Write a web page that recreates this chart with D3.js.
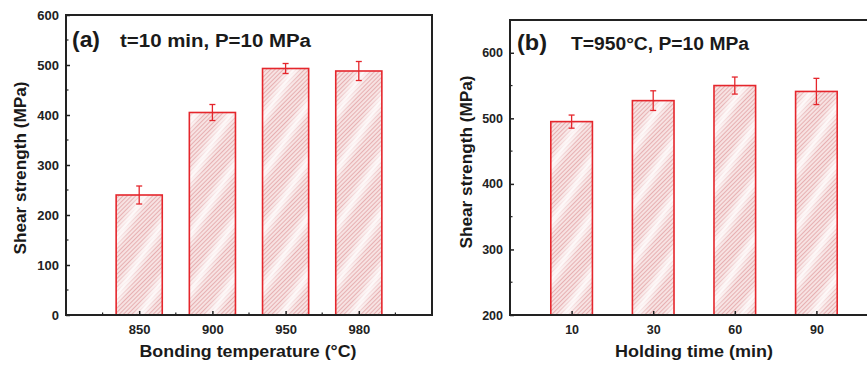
<!DOCTYPE html>
<html>
<head>
<meta charset="utf-8">
<script src="https://cdn.jsdelivr.net/npm/d3@7"></script>
<style>
  body { margin: 0; background: #fff; }
  svg { display: block; font-family: "Liberation Sans", Arial, sans-serif; }
  .tick text { font-weight: bold; fill: #222; }
</style>
</head>
<body>
<svg width="867" height="367"></svg>
<script>
// panel (a): shear strength vs bonding temperature
var tempLabels = ["850", "900", "950", "980"],
    tempStrength = [240, 405, 493, 488],
    tempErr = [18, 16, 10, 19];

// panel (b): shear strength vs holding time
var timeLabels = ["10", "30", "60", "90"],
    timeStrength = [495, 527, 550, 541],
    timeErr = [10, 15, 13, 20];

var red = "#e5262c";

var svg = d3.select("svg");

var defs = svg.append("defs");
// fine red hatch
var pat = defs.append("pattern")
    .attr("id", "hatch")
    .attr("patternUnits", "userSpaceOnUse")
    .attr("width", 3)
    .attr("height", 3)
    .attr("patternTransform", "rotate(45)");
pat.append("rect").attr("width", 3).attr("height", 3).attr("fill", "#f7e2e2");
pat.append("line")
    .attr("x1", 0).attr("y1", 0).attr("x2", 0).attr("y2", 3)
    .attr("stroke", "#d77f82")
    .attr("stroke-width", 1);

// broad light bands (moire of the original hatch)
var grad = defs.append("linearGradient").attr("id", "bandGrad");
grad.append("stop").attr("offset", "0%").attr("stop-color", "#fff").attr("stop-opacity", 0);
grad.append("stop").attr("offset", "50%").attr("stop-color", "#fff").attr("stop-opacity", 0.85);
grad.append("stop").attr("offset", "100%").attr("stop-color", "#fff").attr("stop-opacity", 0);
var bands = defs.append("pattern")
    .attr("id", "bands")
    .attr("patternUnits", "userSpaceOnUse")
    .attr("width", 30)
    .attr("height", 40)
    .attr("patternTransform", "rotate(32)");
bands.append("rect").attr("x", 8).attr("width", 16).attr("height", 40).attr("fill", "url(#bandGrad)");

function label(g, o) {
  var t = g.append("text")
    .style("font-size", o.size + "px").style("font-weight", "bold").attr("fill", "#1a1a1a")
    .attr("textLength", o.len).attr("lengthAdjust", "spacingAndGlyphs")
    .text(o.text);
  if (o.rotate) {
    t.attr("transform", "translate(" + o.x + "," + o.y + ")rotate(-90)").attr("text-anchor", "middle");
  } else {
    t.attr("x", o.x).attr("y", o.y).attr("text-anchor", o.anchor || "start");
  }
}

function panel(opt) {
  var x = d3.scaleLinear().domain(opt.xdom).range([opt.left, opt.right]),
      y = d3.scaleLinear().domain(opt.ydom).range([opt.bottom, opt.top]);
  var g = svg.append("g");
  var bw = opt.bw * (x(1) - x(0));

  // bars
  ["url(#hatch)", "url(#bands)"].forEach(function(fill) {
    g.selectAll(null)
      .data(opt.values)
      .enter().append("rect")
      .attr("x", function(d, i) { return x(i + 1) - bw / 2; })
      .attr("y", function(d) { return y(d); })
      .attr("width", bw)
      .attr("height", function(d) { return y(opt.ydom[0]) - y(d); })
      .attr("fill", fill);
  });
  g.selectAll("rect.bar")
    .data(opt.values)
    .enter().append("rect")
    .attr("class", "bar")
    .attr("x", function(d, i) { return x(i + 1) - bw / 2; })
    .attr("y", function(d) { return y(d); })
    .attr("width", bw)
    .attr("height", function(d) { return y(opt.ydom[0]) - y(d); })
    .attr("fill", "none")
    .attr("stroke", red)
    .attr("stroke-width", 1.6);

  // error bars
  var eb = g.selectAll("g.err")
    .data(opt.values)
    .enter().append("g")
    .attr("class", "err")
    .attr("stroke", red)
    .attr("stroke-width", 1.3);
  eb.append("line")
    .attr("x1", function(d, i) { return x(i + 1); })
    .attr("x2", function(d, i) { return x(i + 1); })
    .attr("y1", function(d, i) { return y(d + opt.err[i]); })
    .attr("y2", function(d, i) { return y(d - opt.err[i]); });
  [1, -1].forEach(function(s) {
    eb.append("line")
      .attr("x1", function(d, i) { return x(i + 1) - 3; })
      .attr("x2", function(d, i) { return x(i + 1) + 3; })
      .attr("y1", function(d, i) { return y(d + s * opt.err[i]); })
      .attr("y2", function(d, i) { return y(d + s * opt.err[i]); });
  });

  // frame
  g.append("rect")
    .attr("x", opt.left).attr("y", opt.top)
    .attr("width", opt.right - opt.left).attr("height", opt.bottom - opt.top)
    .attr("fill", "none").attr("stroke", "#222").attr("stroke-width", 2);

  // x axis
  var xAxis = d3.axisBottom(x)
    .tickValues(d3.range(1, opt.labels.length + 1))
    .tickFormat(function(d) { return opt.labels[d - 1]; })
    .tickSizeInner(-4).tickSizeOuter(0).tickPadding(10);
  var gx = g.append("g")
    .attr("transform", "translate(0," + opt.bottom + ")")
    .call(xAxis);
  gx.select(".domain").remove();
  gx.selectAll("line").attr("stroke", "#222").attr("stroke-width", 1.5);
  gx.selectAll("text").style("font-size", opt.tickFont + "px");

  if (opt.minorX) {
    g.selectAll("line.mx")
      .data(opt.minorX)
      .enter().append("line")
      .attr("x1", function(d) { return x(d); })
      .attr("x2", function(d) { return x(d); })
      .attr("y1", opt.bottom).attr("y2", opt.bottom - 2.5)
      .attr("stroke", "#222").attr("stroke-width", 1.2);
  }

  // y axis
  var yAxis = d3.axisLeft(y)
    .tickValues(opt.yticks)
    .tickSizeInner(-4).tickSizeOuter(0).tickPadding(7);
  var gy = g.append("g")
    .attr("transform", "translate(" + opt.left + ",0)")
    .call(yAxis);
  gy.select(".domain").remove();
  gy.selectAll("line").attr("stroke", "#222").attr("stroke-width", 1.5);
  gy.selectAll("text").style("font-size", opt.tickFont + "px");

  g.selectAll("line.my")
    .data(opt.minorY)
    .enter().append("line")
    .attr("x1", opt.left).attr("x2", opt.left + 2.5)
    .attr("y1", function(d) { return y(d); })
    .attr("y2", function(d) { return y(d); })
    .attr("stroke", "#222").attr("stroke-width", 1.2);

  // titles and annotations
  label(g, {text: "Shear strength (MPa)", x: opt.ytitle[0], y: opt.ytitle[1], size: 16, len: 173, rotate: true});
  label(g, {text: opt.xtitle, x: opt.xtitleX, y: 357, size: 17, len: opt.xtitleLen, anchor: "middle"});
  label(g, {text: opt.tag, x: opt.tag0[0], y: opt.tag0[1], size: 22, len: opt.tag0[2]});
  label(g, {text: opt.cond, x: opt.cond0[0], y: opt.cond0[1], size: 17.5, len: opt.cond0[2]});
}

panel({
  left: 66, right: 432, top: 15, bottom: 315,
  xdom: [0, 5], ydom: [0, 600],
  yticks: [0, 100, 200, 300, 400, 500, 600],
  minorY: [50, 150, 250, 350, 450, 550],
  minorX: [0.5, 1.5, 2.5, 3.5, 4.5],
  values: tempStrength, err: tempErr, labels: tempLabels, bw: 0.63,
  tickFont: 13, ytitle: [26, 168],
  xtitle: "Bonding temperature (\u00b0C)", xtitleX: 248, xtitleLen: 217,
  tag: "(a)", tag0: [72, 47, 28],
  cond: "t=10 min, P=10 MPa", cond0: [120, 47, 191]
});

panel({
  left: 510, right: 878, top: 20, bottom: 315,
  xdom: [0.245, 4.755], ydom: [200, 650],
  yticks: [200, 300, 400, 500, 600],
  minorY: [250, 350, 450, 550],
  minorX: null,
  values: timeStrength, err: timeErr, labels: timeLabels, bw: 0.51,
  tickFont: 12.5, ytitle: [472, 162],
  xtitle: "Holding time (min)", xtitleX: 694, xtitleLen: 158,
  tag: "(b)", tag0: [517, 50, 30],
  cond: "T=950\u00b0C, P=10 MPa", cond0: [571, 50, 178]
});
</script>
</body>
</html>
